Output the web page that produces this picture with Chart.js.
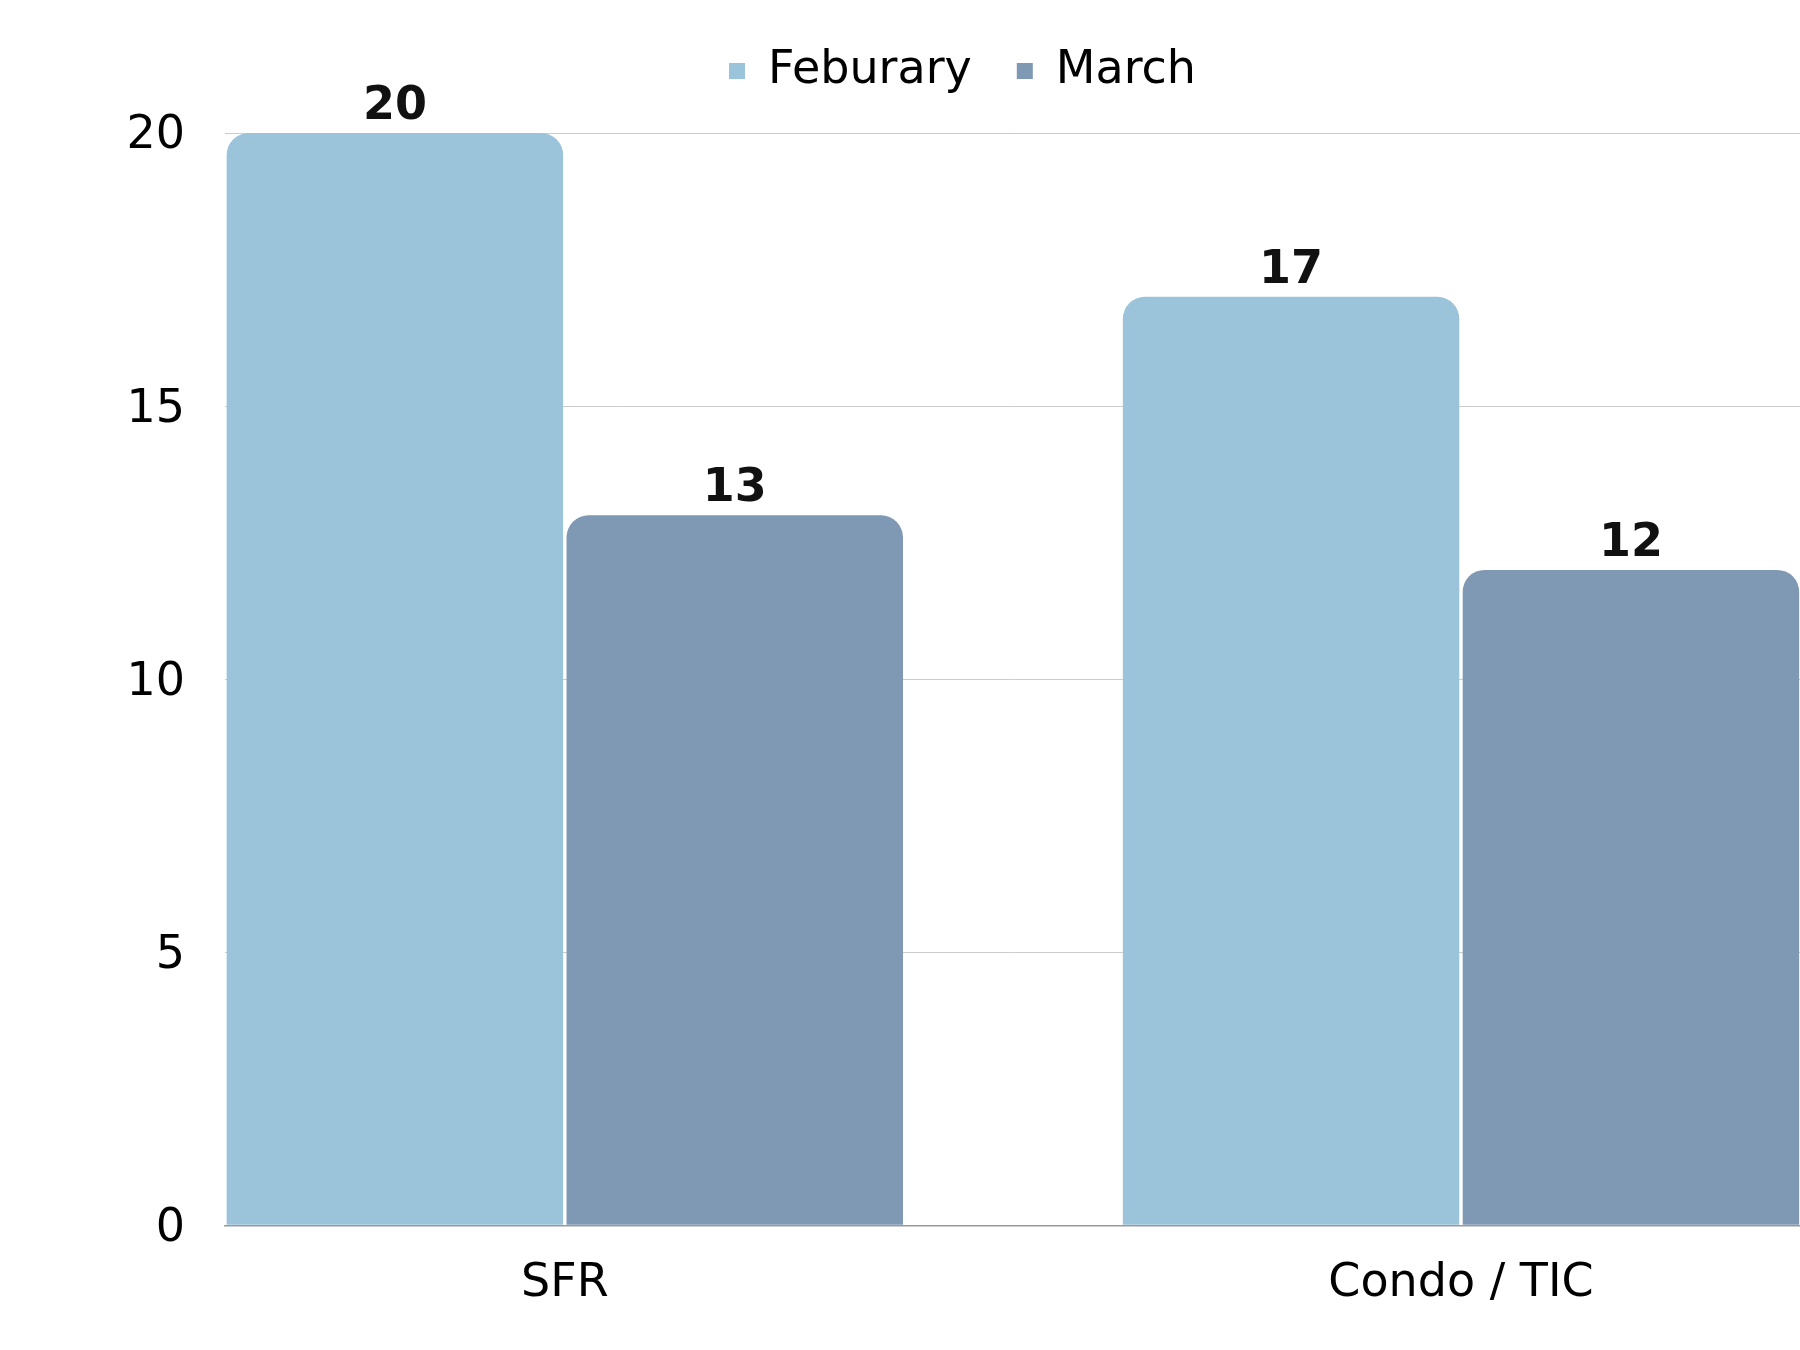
<!DOCTYPE html>
<html>
<head>
<meta charset="utf-8">
<title>Feburary vs March</title>
<script src="https://cdn.jsdelivr.net/npm/chart.js@4.4.0/dist/chart.umd.min.js"></script>
<style>
    html, body {
        margin: 0;
        padding: 0;
        background: #ffffff;
    }
</style>
</head>
<body>
<canvas id="chart" width="1800" height="1350"></canvas>
<script>
'use strict';

// =========================================================
// DATA
// =========================================================

const categories = ['SFR', 'Condo / TIC'];
const seriesNames = ['Feburary', 'March'];
const februaryValues = [20, 17];
const marchValues = [13, 12];
const yTickValues = [0, 5, 10, 15, 20];


// =========================================================
// STYLE
// =========================================================

const FONT_FAMILY = "'DejaVu Sans', sans-serif";
const FEBRUARY_COLOR = '#9bc3d9';
const MARCH_COLOR = '#7f98b4';


// =========================================================
// HELPERS
// =========================================================

// bars sit on a linear x axis so the groups can touch the plot edges
const toPoints = (values) => values.map((value, index) => ({ x: index, y: value }));

// small value-label plugin (no datalabels plugin offline)
const valueLabels = {
    id: 'valueLabels',
    afterDatasetsDraw(chart) {
        const { ctx } = chart;

        ctx.save();
        ctx.font = `bold 46px ${FONT_FAMILY}`;
        ctx.fillStyle = '#111111';
        ctx.textAlign = 'center';
        ctx.textBaseline = 'alphabetic';

        chart.data.datasets.forEach((dataset, datasetIndex) => {
            const meta = chart.getDatasetMeta(datasetIndex);

            meta.data.forEach((bar, index) => {
                ctx.fillText(String(dataset.data[index].y), bar.x, bar.y - 14);
            });
        });

        ctx.restore();
    },
};


// =========================================================
// CHART
// =========================================================

const canvas = document.querySelector('#chart');

new Chart(canvas, {
    type: 'bar',
    data: {
        datasets: [
            {
                label: seriesNames[0],
                data: toPoints(februaryValues),
                backgroundColor: FEBRUARY_COLOR,
            },
            {
                label: seriesNames[1],
                data: toPoints(marchValues),
                backgroundColor: MARCH_COLOR,
            },
        ],
    },
    options: {
        responsive: false,
        animation: false,
        devicePixelRatio: 1,

        categoryPercentage: 0.7585,
        barPercentage: 0.99,

        elements: {
            bar: {
                borderWidth: 0,
                borderSkipped: 'start',
                borderRadius: { topLeft: 22, topRight: 22, bottomLeft: 0, bottomRight: 0 },
            },
        },

        layout: {
            padding: { top: 3, left: 125, right: 0, bottom: 0 },
        },

        plugins: {
            legend: {
                position: 'top',
                labels: {
                    font: { family: FONT_FAMILY, size: 46 },
                    color: '#000000',
                    boxWidth: 16,
                    boxHeight: 16,
                    padding: 45,
                },
            },
            tooltip: { enabled: false },
        },

        scales: {
            x: {
                type: 'linear',
                offset: false,
                min: -0.3792,
                max: 1.3783,
                afterBuildTicks: (axis) => {
                    axis.ticks = categories.map((name, index) => ({ value: index }));
                },
                afterFit: (axis) => {
                    axis.height = 124.7;
                },
                ticks: {
                    callback: (value) => categories[value] ?? '',
                    font: { family: FONT_FAMILY, size: 46 },
                    color: '#000000',
                    padding: 31,
                },
                grid: {
                    display: false,
                    drawTicks: false,
                    offset: false,
                },
                border: {
                    display: true,
                    color: '#999999',
                    width: 1.5,
                },
            },
            y: {
                min: 0,
                max: 20.531,
                afterBuildTicks: (axis) => {
                    axis.ticks = yTickValues.map((value) => ({ value }));
                },
                afterFit: (axis) => {
                    axis.width = 100;
                },
                ticks: {
                    font: { family: FONT_FAMILY, size: 46 },
                    color: '#000000',
                    padding: 40,
                    labelOffset: 3.5,
                },
                grid: {
                    color: '#cccccc',
                    lineWidth: 1,
                    drawTicks: false,
                },
                border: {
                    display: false,
                },
            },
        },
    },
    plugins: [valueLabels],
});
</script>
</body>
</html>
